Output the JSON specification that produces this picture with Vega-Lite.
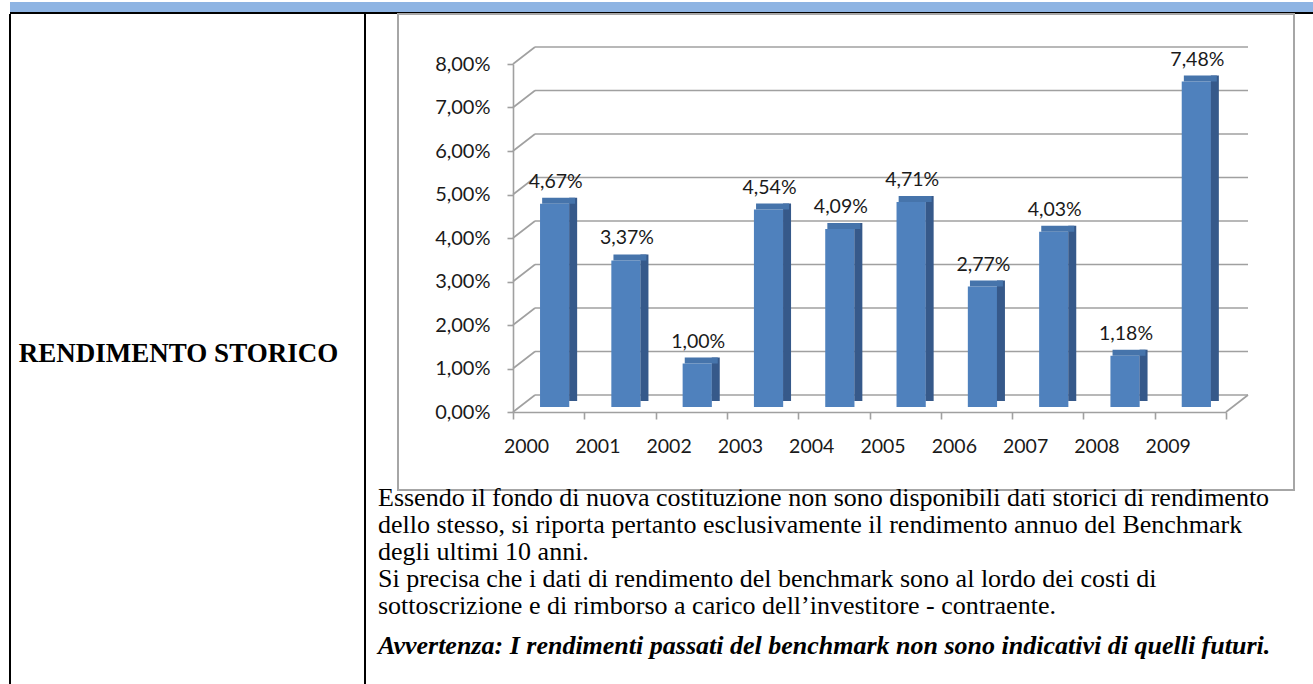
{
  "$schema": "https://vega.github.io/schema/vega-lite/v6.json",
  "background": "white",
  "padding": {"left": 8, "top": 0, "right": 0, "bottom": 0},
  "spacing": 1,
  "bounds": "flush",
  "datasets": {
    "returns": [
      {"year": "2000", "v": 0.0467},
      {"year": "2001", "v": 0.0337},
      {"year": "2002", "v": 0.0100},
      {"year": "2003", "v": 0.0454},
      {"year": "2004", "v": 0.0409},
      {"year": "2005", "v": 0.0471},
      {"year": "2006", "v": 0.0277},
      {"year": "2007", "v": 0.0403},
      {"year": "2008", "v": 0.0118},
      {"year": "2009", "v": 0.0748}
    ],
    "grid": [
      {"level": 0}, {"level": 0.01}, {"level": 0.02}, {"level": 0.03}, {"level": 0.04},
      {"level": 0.05}, {"level": 0.06}, {"level": 0.07}, {"level": 0.08}
    ]
  },
  "vconcat": [
    {
      "width": 1304,
      "height": 11,
      "view": {"fill": "#8eb4e3", "stroke": "black", "strokeWidth": 2, "strokeDash": [0, 1315, 1304, 11]},
      "data": {"values": [{"h": "DATI PERIODICI"}]},
      "mark": {"type": "rule", "opacity": 0},
      "encoding": {}
    },
    {
      "hconcat": [
        {
          "width": 355,
          "height": 672,
          "view": {"stroke": "black", "strokeWidth": 2, "strokeDash": [0, 355, 672, 355, 672]},
          "data": {"values": [{"label": "RENDIMENTO STORICO"}]},
          "mark": {"type": "text", "font": "Liberation Serif", "fontWeight": "bold", "fontSize": 27, "color": "black", "dx": -9, "dy": 4},
          "encoding": {
            "text": {"field": "label"}
          }
        },
        {
          "width": 896,
          "height": 476,
          "view": {"stroke": "#a6a6a6", "strokeWidth": 2, "fill": "white"},
          "title": {
            "text": [
              "Essendo il fondo di nuova costituzione non sono disponibili dati storici di rendimento",
              "dello stesso, si riporta pertanto esclusivamente il rendimento annuo del Benchmark",
              "degli ultimi 10 anni.",
              "Si precisa che i dati di rendimento del benchmark sono al lordo dei costi di",
              "sottoscrizione e di rimborso a carico dell’investitore - contraente."
            ],
            "subtitle": "Avvertenza: I rendimenti passati del benchmark non sono indicativi di quelli futuri.",
            "orient": "bottom",
            "anchor": "start",
            "frame": "group",
            "align": "left",
            "dx": -20,
            "offset": -5,
            "font": "Liberation Serif",
            "fontSize": 26,
            "fontWeight": "normal",
            "color": "black",
            "lineHeight": 27,
            "subtitleFont": "Liberation Serif",
            "subtitleFontSize": 26,
            "subtitleFontStyle": "italic",
            "subtitleFontWeight": "bold",
            "subtitleColor": "black",
            "subtitlePadding": 14
          },
          "layer": [
            {
              "data": {"name": "grid"},
              "mark": {"type": "rule", "color": "#a0a0a0", "strokeWidth": 1.6, "xOffset": 22, "x2Offset": 22, "yOffset": -17},
              "encoding": {
                "y": {"field": "level", "type": "quantitative",
                      "scale": {"domain": [0, 0.08], "range": [398, 50]},
                      "axis": {"orient": "left", "offset": -115, "values": [0, 0.01, 0.02, 0.03, 0.04, 0.05, 0.06, 0.07, 0.08], "format": ".2%", "domainColor": "#a0a0a0", "domainWidth": 1.6, "tickColor": "#a0a0a0", "tickSize": 6, "tickWidth": 1.6, "labelFont": "Lato", "labelFontSize": 20, "labelColor": "#1a1a1a", "labelPadding": 17, "title": null, "grid": false}},
                "x": {"datum": "2000", "type": "ordinal", "bandPosition": 0},
                "x2": {"datum": "2009", "bandPosition": 1}
              }
            },
            {
              "data": {"name": "grid"},
              "mark": {"type": "rule", "color": "#a0a0a0", "strokeWidth": 1.6, "x2Offset": 22, "y2Offset": -17},
              "encoding": {
                "y": {"field": "level", "type": "quantitative"},
                "y2": {"field": "level"},
                "x": {"datum": "2000", "type": "ordinal", "bandPosition": 0},
                "x2": {"datum": "2000", "bandPosition": 0}
              }
            },
            {
              "data": {"name": "grid"},
              "transform": [{"filter": "datum.level == 0"}],
              "mark": {"type": "rule", "color": "#a0a0a0", "strokeWidth": 1.6, "x2Offset": 22, "y2Offset": -17},
              "encoding": {
                "y": {"field": "level", "type": "quantitative"},
                "y2": {"field": "level"},
                "x": {"datum": "2009", "type": "ordinal", "bandPosition": 1},
                "x2": {"datum": "2009", "bandPosition": 1}
              }
            },
            {
              "data": {"name": "returns"},
              "mark": {"type": "bar", "color": "#4f81bd", "width": {"band": 0.41}, "xOffset": 6, "yOffset": -5, "y2Offset": -5},
              "encoding": {
                "x": {"field": "year", "type": "ordinal",
                      "scale": {"type": "band", "range": [115, 828], "paddingInner": 0, "paddingOuter": 0},
                      "axis": {"orient": "bottom", "offset": -78, "domainColor": "#a0a0a0", "domainWidth": 1.6, "tickColor": "#a0a0a0", "tickSize": 7, "tickWidth": 1.6, "tickBand": "extent", "labelFont": "Lato", "labelFontSize": 19.5, "labelColor": "#1a1a1a", "labelPadding": 27, "labelAngle": 0, "title": null, "grid": false}},
                "y": {"field": "v", "type": "quantitative"}
              }
            },
            {
              "data": {"name": "returns"},
              "mark": {"type": "bar", "color": "#36598a", "width": 8, "xOffset": 24.5, "yOffset": -11, "y2Offset": -8},
              "encoding": {
                "x": {"field": "year", "type": "ordinal"},
                "y": {"field": "v", "type": "quantitative"}
              }
            },
            {
              "data": {"name": "returns"},
              "mark": {"type": "bar", "color": "#4674ab", "width": 33, "xOffset": 10, "yOffset": -11, "y2Offset": -5},
              "encoding": {
                "x": {"field": "year", "type": "ordinal"},
                "y": {"field": "v", "type": "quantitative"},
                "y2": {"field": "v"}
              }
            },
            {
              "data": {"name": "returns"},
              "mark": {"type": "text", "font": "Lato", "fontSize": 19.5, "color": "#1a1a1a", "baseline": "alphabetic", "dx": 7, "dy": -21},
              "encoding": {
                "x": {"field": "year", "type": "ordinal"},
                "y": {"field": "v", "type": "quantitative"},
                "text": {"field": "v", "type": "quantitative", "format": ".2%"}
              }
            }
          ]
        }
      ],
      "spacing": 33,
      "bounds": "flush"
    }
  ],
  "config": {
    "view": {"stroke": null},
    "locale": {"number": {"decimal": ",", "thousands": ".", "grouping": [3], "currency": ["€", ""]}}
  }
}
